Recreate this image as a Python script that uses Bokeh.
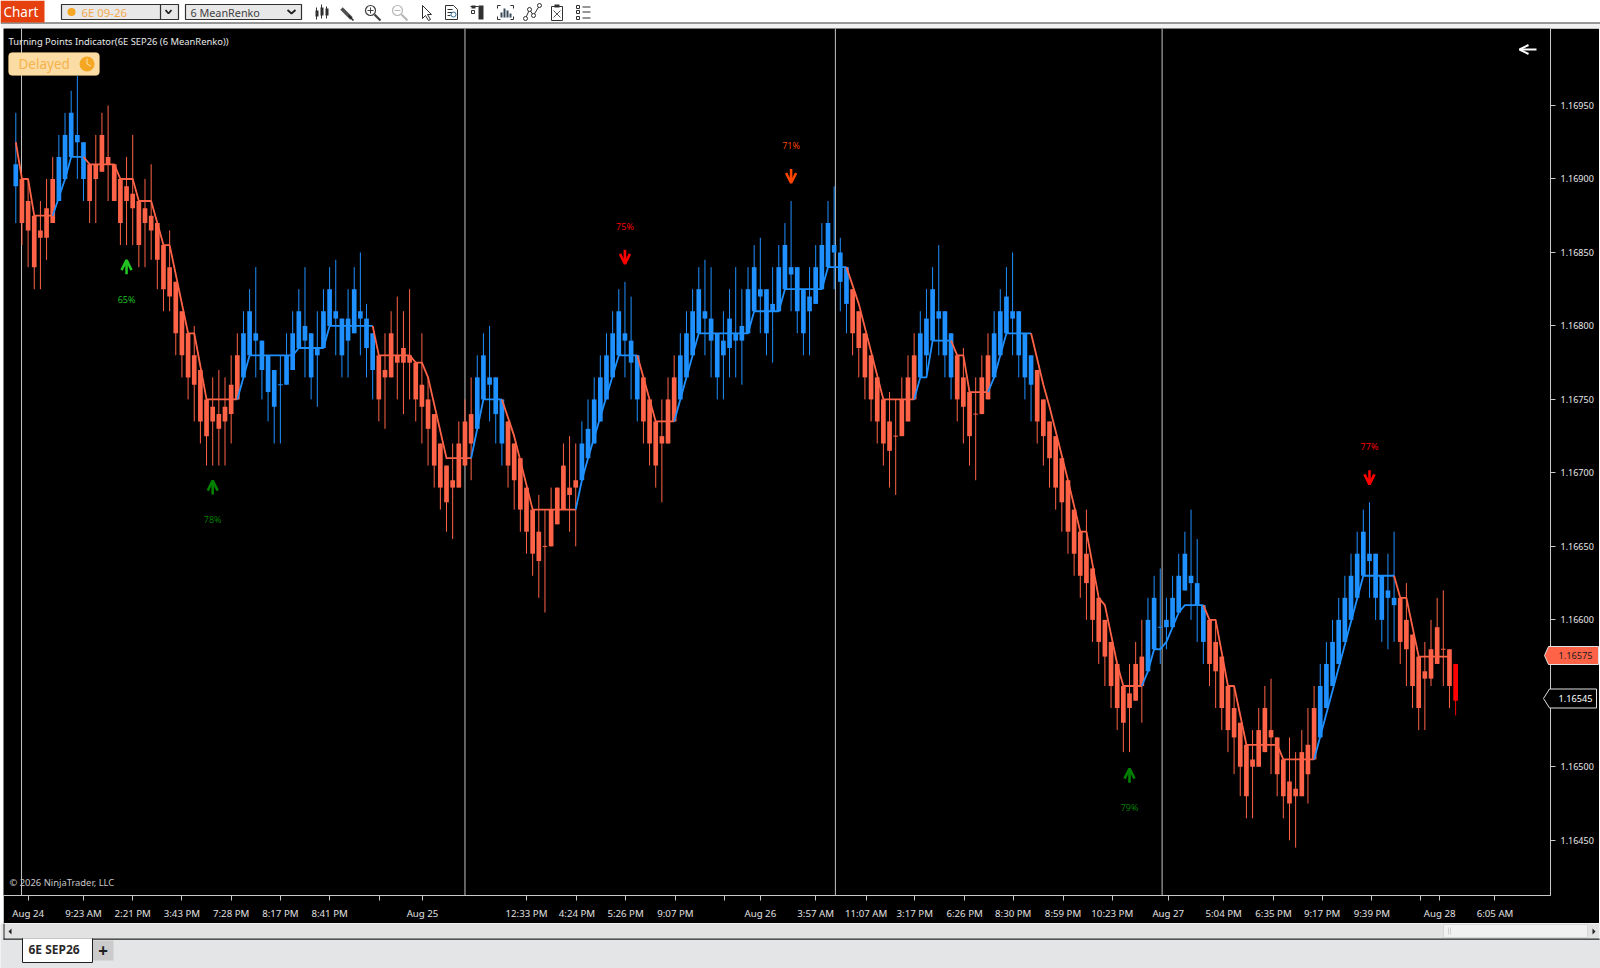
from bokeh.plotting import figure
from bokeh.layouts import column
from bokeh.models import (Range1d, FixedTicker, NumeralTickFormatter, Span, Arrow, OpenHead, BoxAnnotation)
from bokeh.embed import file_html
from bokeh.resources import INLINE
from bokeh.core.properties import value

# Prices are written as hundred-thousandths above 1.0 (16910 = 1.16910)
open_pts = [16895,16900,16885,16875,16865,16880,16900,16885,16900,16915,16925,16900,16910,16910,16930,16915,16910,16900,16895,16890,
16885,16880,16875,16870,16855,16840,16830,16810,16795,16780,16770,16750,16745,16740,16745,16760,16780,16765,16780,16790,
16770,16755,16745,16760,16760,16770,16785,16790,16765,16780,16785,16800,16805,16780,16790,16795,16805,16785,16770,16780,
16770,16795,16780,16785,16780,16775,16760,16750,16740,16720,16705,16695,16720,16735,16740,16730,16750,16760,16740,16720,
16735,16720,16710,16690,16675,16660,16650,16675,16690,16705,16690,16695,16695,16710,16720,16735,16750,16765,16780,16790,
16775,16750,16765,16750,16735,16725,16750,16765,16750,16765,16780,16795,16805,16790,16765,16780,16785,16790,16790,16795,
16810,16820,16795,16810,16810,16825,16835,16810,16795,16810,16815,16825,16840,16850,16830,16815,16825,16810,16795,16780,
16765,16750,16735,16725,16750,16765,16780,16765,16780,16790,16805,16780,16765,16780,16765,16755,16740,16765,16780,16765,
16780,16795,16805,16780,16765,16760,16770,16750,16735,16725,16710,16695,16675,16660,16645,16635,16615,16600,16585,16570,
16555,16550,16570,16575,16565,16580,16595,16595,16595,16605,16620,16625,16610,16585,16600,16585,16575,16555,16540,16530,
16515,16505,16525,16540,16525,16520,16505,16490,16485,16510,16515,16540,16520,16540,16555,16570,16585,16600,16615,16630,
16640,16615,16600,16615,16610,16615,16600,16590,16575,16565,16580,16595,16580,16580,16570]
high_pts = [16945,16900,16900,16875,16885,16900,16915,16930,16945,16960,16970,16925,16910,16930,16945,16950,16910,16900,16915,16930,
16885,16900,16910,16870,16855,16865,16830,16810,16795,16800,16770,16750,16765,16770,16765,16780,16795,16810,16825,16840,
16790,16780,16770,16780,16795,16810,16825,16840,16795,16810,16825,16840,16845,16805,16825,16840,16850,16815,16795,16780,
16795,16810,16820,16810,16825,16775,16795,16765,16740,16720,16705,16720,16735,16750,16765,16780,16795,16800,16765,16750,
16735,16720,16710,16690,16675,16685,16675,16690,16690,16720,16725,16720,16735,16750,16765,16780,16795,16810,16825,16830,
16820,16780,16765,16750,16735,16750,16765,16780,16795,16810,16825,16840,16845,16840,16795,16810,16825,16840,16825,16840,
16855,16860,16825,16840,16855,16870,16885,16840,16825,16840,16855,16870,16885,16895,16860,16840,16825,16810,16795,16780,
16765,16750,16755,16750,16765,16780,16795,16810,16825,16840,16855,16810,16795,16780,16785,16755,16765,16780,16795,16810,
16825,16840,16850,16810,16795,16780,16770,16750,16735,16725,16710,16695,16675,16660,16675,16635,16615,16600,16585,16570,
16555,16570,16585,16600,16615,16630,16635,16615,16630,16645,16660,16675,16655,16610,16600,16600,16575,16555,16555,16530,
16515,16525,16540,16555,16560,16520,16505,16520,16510,16525,16540,16555,16570,16585,16600,16615,16630,16645,16660,16675,
16680,16645,16630,16645,16660,16615,16625,16590,16575,16585,16600,16615,16620,16580,16570]
low_pts = [16870,16855,16840,16825,16825,16845,16870,16885,16900,16915,16900,16885,16870,16870,16905,16885,16885,16855,16855,16855,
16840,16840,16845,16825,16810,16810,16780,16765,16750,16735,16720,16705,16705,16705,16705,16720,16750,16765,16780,16765,
16750,16735,16720,16720,16760,16770,16785,16765,16750,16745,16785,16800,16780,16765,16765,16795,16780,16765,16750,16735,
16730,16765,16750,16740,16750,16735,16720,16705,16690,16675,16660,16655,16690,16705,16695,16730,16750,16735,16720,16705,
16690,16675,16660,16645,16630,16615,16605,16650,16665,16675,16660,16650,16695,16710,16720,16735,16750,16765,16780,16765,
16750,16735,16720,16705,16690,16680,16720,16735,16750,16765,16780,16795,16780,16765,16750,16750,16765,16765,16760,16795,
16810,16795,16780,16775,16810,16825,16810,16795,16780,16780,16815,16825,16840,16825,16810,16795,16780,16765,16750,16735,
16720,16705,16690,16685,16725,16735,16750,16765,16765,16790,16780,16765,16750,16735,16720,16705,16695,16740,16750,16765,
16780,16795,16780,16765,16750,16735,16720,16705,16690,16675,16660,16645,16630,16615,16600,16585,16570,16555,16540,16525,
16510,16510,16545,16530,16565,16580,16570,16580,16595,16605,16620,16600,16585,16570,16555,16540,16525,16510,16495,16480,
16465,16465,16500,16510,16495,16480,16465,16450,16445,16480,16475,16505,16520,16540,16555,16570,16585,16600,16615,16630,
16615,16600,16585,16580,16585,16570,16555,16540,16525,16525,16555,16570,16555,16540,16535]
close_pts = [16910,16870,16865,16840,16860,16860,16870,16915,16930,16945,16930,16925,16885,16900,16905,16910,16885,16870,16885,16880,
16855,16870,16865,16845,16825,16820,16795,16780,16765,16760,16735,16725,16735,16730,16735,16740,16750,16795,16810,16795,
16790,16780,16770,16760,16780,16795,16810,16800,16795,16785,16810,16825,16810,16805,16805,16825,16810,16805,16795,16750,
16765,16765,16775,16775,16775,16750,16745,16730,16705,16690,16680,16690,16690,16705,16720,16765,16780,16765,16765,16750,
16705,16695,16675,16660,16645,16640,16650,16650,16665,16675,16685,16690,16720,16730,16750,16765,16780,16795,16810,16795,
16790,16780,16735,16720,16705,16720,16720,16735,16780,16795,16810,16825,16810,16805,16795,16790,16805,16795,16800,16825,
16840,16825,16825,16815,16840,16855,16840,16840,16825,16820,16840,16855,16870,16855,16850,16840,16795,16785,16765,16750,
16735,16720,16715,16725,16725,16735,16750,16795,16805,16825,16810,16810,16795,16750,16745,16725,16740,16740,16750,16795,
16810,16820,16810,16810,16795,16780,16735,16725,16710,16690,16680,16660,16645,16630,16625,16600,16585,16575,16555,16540,
16530,16540,16545,16555,16600,16615,16595,16600,16615,16630,16645,16630,16625,16610,16570,16565,16540,16525,16520,16500,
16480,16500,16500,16510,16520,16495,16480,16475,16480,16480,16495,16505,16555,16570,16585,16600,16615,16630,16645,16660,
16645,16645,16630,16620,16615,16585,16580,16555,16540,16560,16560,16570,16580,16555,16545]
doji_up_bars = [44, 187]          # bars whose open equals close and that are drawn blue

trend_bar = [1,2,3,4,7,9,10,12,13,17,18,20,21,23,25,26,29,30,32,37,39,46,47,51,52,59,60,65,66,67,68,71,75,77,80,82,85,92,
93,94,99,102,105,108,112,120,121,125,126,132,133,136,138,142,147,148,149,150,153,154,155,156,159,160,162,166,168,169,172,174,
175,177,178,180,181,184,185,186,187,188,189,190,191,194,195,196,198,199,201,206,207,212,220,225,226,227,229,234]
trend_pts = [16925,16900,16900,16875,16875,16900,16915,16915,16910,16910,16900,16900,16885,16885,16855,16855,16795,16795,16750,16750,
16780,16780,16785,16785,16800,16800,16780,16780,16775,16775,16765,16710,16710,16750,16750,16725,16675,16675,
16695,16710,16780,16780,16735,16735,16795,16795,16810,16810,16825,16825,16840,16840,16815,16750,16750,16765,16765,16790,16790,
16780,16780,16755,16755,16765,16795,16795,16760,16745,16695,16660,16660,16615,16610,16570,16555,16555,16565,16580,16580,16585,
16595,16605,16610,16610,16600,16600,16555,16555,16515,16515,16505,16505,16630,16630,16615,16615,16575,16575]
turn_bars = [7,12,37,59,75,80,92,102,108,136,147,153,159,166,184,194,212,225]

price_ticks = [1.1695,1.169,1.1685,1.168,1.1675,1.167,1.1665,1.166,1.1655,1.165,1.1645]
time_ticks = [3.02,12,20,28,36,44,52,60.1,67.1,84,92.2,100.1,108.2,116.1,122,131,139.2,147.1,155.2,163.1,171.2,179.2,188.3,197.3,
              205.4,213.3,221.4,229.3,232.4,241.4]
time_labels = ["Aug 24","9:23 AM","2:21 PM","3:43 PM","7:28 PM","8:17 PM","8:41 PM","","Aug 25","12:33 PM","4:24 PM","5:26 PM",
               "9:07 PM","","Aug 26","3:57 AM","11:07 AM","3:17 PM","6:26 PM","8:30 PM","8:59 PM","10:23 PM","Aug 27","5:04 PM",
               "6:35 PM","9:17 PM","9:39 PM","","Aug 28","6:05 AM"]
session_bars = [1.93, 74.0, 134.2, 187.3]

signal_bar = [19, 33, 100, 127, 182, 221]
signal_price = [1.16840, 1.16690, 1.16847, 1.16902, 1.16494, 1.16697]
signal_text = ["65%", "78%", "75%", "71%", "79%", "77%"]
signal_color = ["#22C422", "#008000", "#FF0000", "#FF4500", "#008000", "#FF0000"]
signal_up = [True, True, False, False, True, False]

last_close = 1.16545
trend_last = 1.16575

BLUE, CORAL = "#1E90FF", "#FF6347"
UI = value("Noto Sans")
n = len(open_pts)
bars = list(range(1, n + 1))
op = [1 + v / 1e5 for v in open_pts]
hi = [1 + v / 1e5 for v in high_pts]
lo = [1 + v / 1e5 for v in low_pts]
cl = [1 + v / 1e5 for v in close_pts]
colors = []
for b, o, c in zip(bars, op, cl):
    up = c > o or (c == o and b in doji_up_bars)
    colors.append(BLUE if up else CORAL)
colors[-1] = "#FF0000"

# ---------------- main chart: frame spans page px 3..1550 by 28..895
PX = 146.96 / 0.001   # pixels per price unit
p = figure(width=1596, height=895, output_backend="svg", toolbar_location=None, y_axis_location="right",
           x_range=Range1d(-0.999, 250.42), y_range=Range1d(1.1695 - 790 / PX, 1.1695 + 77 / PX),
           min_border_left=0, min_border_top=0, min_border_right=49, min_border_bottom=28,
           background_fill_color="#000000", border_fill_color="#000000", outline_line_color=None,
           margin=(0, 1, 0, 3), frame_align=False)
p.grid.visible = False
p.extra_x_ranges["px"] = Range1d(3, 1550)
p.extra_y_ranges["px"] = Range1d(895, 28)

ax = p.yaxis[0]
ax.ticker = FixedTicker(ticks=price_ticks)
ax.formatter = NumeralTickFormatter(format="0.00000")
ax.axis_line_color = "#c8c8c8"
ax.major_tick_line_color = "#c8c8c8"
ax.major_tick_out = 5
ax.major_tick_in = 0
ax.minor_tick_out = 0
ax.minor_tick_in = 0
ax.major_label_standoff = 5
ax.major_label_text_color = "#e8e8e8"
ax.major_label_text_font = "Noto Sans"
ax.major_label_text_font_size = "9px"

bx = p.xaxis[0]
bx.ticker = FixedTicker(ticks=time_ticks)
bx.major_label_overrides = dict(zip(time_ticks, time_labels))
bx.axis_line_color = "#c8c8c8"
bx.major_tick_line_color = "#c8c8c8"
bx.major_tick_out = 5
bx.major_tick_in = 0
bx.minor_tick_out = 0
bx.minor_tick_in = 0
bx.major_label_standoff = 6
bx.major_label_text_color = "#e0e0e0"
bx.major_label_text_font = "Noto Sans"
bx.major_label_text_font_size = "9.7px"

for b in session_bars:
    p.add_layout(Span(location=b, dimension="height", line_color="#c4c4c4", line_width=1, level="underlay"))

p.segment(bars, hi, bars, lo, line_color=colors, line_width=1)
p.vbar(x=bars, top=[max(a, b) for a, b in zip(op, cl)], bottom=[min(a, b) for a, b in zip(op, cl)], width=0.76,
       fill_color=colors, line_color=None)
dx = [b for b, o, c in zip(bars, op, cl) if o == c]
dy = [o for o, c in zip(op, cl) if o == c]
dc = [c for c, o, k in zip(colors, op, cl) if o == k]
p.segment([b - 0.38 for b in dx], dy, [b + 0.38 for b in dx], dy, line_color=dc, line_width=1)

# trend line, split at every turn
start, col = 0, CORAL
for t in turn_bars + [trend_bar[-1]]:
    stop = trend_bar.index(t)
    p.line(trend_bar[start:stop + 1], [1 + v / 1e5 for v in trend_pts[start:stop + 1]], line_color=col, line_width=1.8)
    start, col = stop, (BLUE if col == CORAL else CORAL)

# signals
half = 7 / PX
gap = 32 / PX
for b, y, txt, c, up in zip(signal_bar, signal_price, signal_text, signal_color, signal_up):
    s = -half if up else half
    p.add_layout(Arrow(end=OpenHead(size=10, line_color=c, line_width=2.6),
                       x_start=b, x_end=b, y_start=y + s, y_end=y - s, line_color=c, line_width=2.6))
    p.text([b], [y - gap if up else y + gap - 1.5 / PX], text=[txt], text_color=c, text_align="center",
           text_baseline="middle", text_font=value("Open Sans"), text_font_size="9px")

# labels inside the chart, placed in page pixels
kw = dict(x_range_name="px", y_range_name="px", text_baseline="middle", text_font=UI)
p.text([8], [40.5], text=["Turning Points Indicator(6E SEP26 (6 MeanRenko))"], text_color="#e8e8e8", text_font_size="9.4px", **kw)
p.text([9], [881.5], text=["\u00a9 2026 NinjaTrader, LLC"], text_color="#c8c8c8", text_font_size="9.4px", **kw)
p.add_layout(BoxAnnotation(left=8, right=99, top=52, bottom=75, x_range_name="px", y_range_name="px", fill_color="#FBDCA5",
                           fill_alpha=1, line_color="#D8B060", line_width=1, border_radius=4, level="underlay"))
p.text([18], [63.5], text=["Delayed"], text_color="#F6B24B", text_font_size="13.5px", **kw)
p.scatter([86.5], [63.5], size=15, marker="circle", fill_color="#F5A623", line_color=None, x_range_name="px", y_range_name="px")
p.segment([86.5, 86.5], [63.5, 63.5], [86.5, 90.5], [58, 65.5], line_color="#FAD48F", line_width=1.3, x_range_name="px", y_range_name="px")
p.add_layout(Arrow(end=OpenHead(size=9, line_color="#ffffff", line_width=2), x_start=1536, x_end=1519, y_start=49, y_end=49,
                   line_color="#ffffff", line_width=2, x_range_name="px", y_range_name="px"))

# ---------------- window strips above and below the chart
def strip(w, h, x0, x1, y0, y1, bg, **extra):
    f = figure(width=w, height=h, output_backend="svg", toolbar_location=None, x_range=Range1d(x0, x1), y_range=Range1d(y1, y0),
               min_border=0, background_fill_color=bg, border_fill_color=bg, outline_line_color=None, x_axis_type=None, y_axis_type=None,
               frame_align=False, **extra)
    f.grid.visible = False
    return f

t = strip(1600, 28, 0, 1600, 0, 28, "#ffffff")
t.quad(left=[0], right=[1600], top=[22], bottom=[28], fill_color="#f1f1f1", line_color=None)
t.segment([0], [22.5], [1600], [22.5], line_color="#3a3a3a", line_width=1.2)
t.quad(left=[0], right=[44], top=[0], bottom=[22], fill_color="#E5400D", line_color=None)
t.text([3], [11.5], text=["Chart"], text_color="#ffffff", text_font=UI, text_font_size="13.5px", text_baseline="middle")
t.quad(left=[61, 185], right=[178, 301], top=[4, 4], bottom=[19, 19], fill_color="#E8E8E8", line_color="#303030", line_width=1.2)
t.segment([160], [4], [160], [19], line_color="#303030", line_width=1.2)
t.scatter([71], [11.5], size=8, marker="circle", fill_color="#F5A623", line_color=None)
t.text([81], [11.5], text=["6E 09-26"], text_color="#F5A84A", text_font=UI, text_font_size="11.4px", text_baseline="middle")
t.text([190], [11.5], text=["6 MeanRenko"], text_color="#404040", text_font=UI, text_font_size="10.8px", text_baseline="middle")
t.multi_line([[165, 168, 171], [287, 291, 295]], [[9.5, 13, 9.5], [9.5, 13, 9.5]], line_color="#202020", line_width=1.8)
D = "#303030"
# candle icon
t.segment([316, 321, 326], [7, 4, 6], [316, 321, 326], [19, 18, 18], line_color=D, line_width=1)
t.quad(left=[315, 320, 325], right=[318, 323, 328], top=[10, 7, 8], bottom=[16, 15, 15], fill_color=D, line_color=None)
# pencil
t.line([341, 351], [8, 18], line_color="#505050", line_width=3.5)
t.line([348, 353], [15, 20], line_color="#222222", line_width=1.5)
# magnifiers
for mx, c, plus in [(370, "#404040", True), (397, "#b8b8b8", False)]:
    t.scatter([mx], [10], size=10, marker="circle", fill_color=None, line_color=c, line_width=1.2)
    t.line([mx + 4, mx + 10], [14, 20], line_color=c, line_width=2.2)
    t.segment([mx - 3], [10], [mx + 3], [10], line_color=c, line_width=1)
    if plus:
        t.segment([mx], [7], [mx], [13], line_color=c, line_width=1)
# cursor
t.patch([422, 422, 425, 428, 430, 427, 431], [5, 18, 15, 20, 19, 14, 14], fill_color="#ffffff", line_color=D, line_width=1)
# document
t.patch([445, 453, 457, 457, 445], [5, 5, 9, 19, 19], fill_color="#ffffff", line_color=D, line_width=1)
t.segment([447, 447, 447], [9, 12, 15], [452, 452, 450], [9, 12, 15], line_color=D, line_width=1)
t.scatter([453], [14], size=5, marker="circle", fill_color=None, line_color="#2a6f9e", line_width=1)
# columns
t.quad(left=[471, 478], right=[475, 483], top=[5, 5], bottom=[8, 19], fill_color=D, line_color=None)
t.segment([470], [6], [478], [6], line_color=D, line_width=1)
t.quad(left=[471], right=[474], top=[10], bottom=[13], fill_color=None, line_color=D, line_width=1)
# chart frame
t.multi_line([[497, 497, 500], [510, 513, 513], [497, 497, 500], [510, 513, 513]], [[8, 5, 5], [5, 5, 8], [16, 19, 19], [19, 19, 16]],
             line_color=D, line_width=1)
t.quad(left=[500, 503, 506, 509], right=[502, 505, 508, 511], top=[12, 8, 10, 13], bottom=[17, 17, 17, 17], fill_color="#3a4a5a", line_color=None)
# line icon
t.line([525, 529, 533, 539], [18, 9, 15, 5], line_color=D, line_width=1)
t.scatter([525, 529, 533, 539], [18, 9, 15, 5], size=4, marker="circle", fill_color="#ffffff", line_color=D, line_width=1)
# clipboard
t.quad(left=[551], right=[562], top=[6], bottom=[20], fill_color="#ffffff", line_color=D, line_width=1)
t.quad(left=[554], right=[559], top=[4], bottom=[7], fill_color=D, line_color=None)
t.segment([553, 560], [10, 10], [560, 553], [17, 17], line_color="#555555", line_width=1)
# list
t.quad(left=[576, 576, 576], right=[579, 579, 579], top=[5, 10, 16], bottom=[8, 13, 19], fill_color=None, line_color=D, line_width=1)
t.segment([582, 582, 582], [6.5, 11.5, 17.5], [590, 590, 590], [6.5, 11.5, 17.5], line_color=D, line_width=1.2)

b = strip(1600, 45, 0, 1600, 923, 968, "#E4E5E6")
b.quad(left=[3], right=[1599], top=[923], bottom=[938], fill_color="#E2E2E2", line_color="#f4f4f4", line_width=1)
b.quad(left=[1443], right=[1587], top=[924], bottom=[937], fill_color="#F1F1F1", line_color="#c8c8c8", line_width=0.6)
b.segment([1448, 1450], [927, 927], [1448, 1450], [934, 934], line_color="#c8c8c8", line_width=0.8)
b.segment([3], [938.6], [1599], [938.6], line_color="#202020", line_width=1.2)
b.segment([3.5, 1599.5], [923], [3.5, 1599.5], [939], line_color="#202020", line_width=1)
b.patch([11, 8, 11], [928, 931, 934], fill_color="#202020", line_color=None)
b.patch([1592, 1595, 1592], [928, 931, 934], fill_color="#202020", line_color=None)
b.quad(left=[92], right=[113], top=[940], bottom=[960], fill_color="#CBCBCB", line_color=None)
b.quad(left=[22], right=[92], top=[938], bottom=[962], fill_color="#FFFFFF", line_color="#202020", line_width=1)
b.segment([22.5], [938.6], [91.5], [938.6], line_color="#ffffff", line_width=1.5)
b.text([28], [949], text=["6E SEP26"], text_color="#2a2a2a", text_font=UI, text_font_size="12px", text_font_style="bold", text_baseline="middle")
b.text([102.5], [950], text=["+"], text_color="#202020", text_font=UI, text_font_size="17px", text_font_style="bold", text_align="center", text_baseline="middle")

# ---------------- last-price tags, a small transparent figure laid over the price axis
g = strip(60, 80, 1540, 1600, 640, 720, None,
          styles={"position": "absolute", "left": "1540px", "top": "639px"})
g.patch([1544, 1548, 1598, 1598, 1548], [656, 647, 647, 665, 665], fill_color=CORAL, line_color="#e0e0e0", line_width=1)
g.patch([1543, 1549, 1596, 1596, 1549], [699, 689.5, 689.5, 708.5, 708.5], fill_color="#000000", line_color="#e0e0e0", line_width=1)
g.text([1575, 1575], [656, 699], text=[f"{trend_last:.5f}", f"{last_close:.5f}"], text_color=["#202020", "#ffffff"],
       text_align="center", text_baseline="middle", text_font=UI, text_font_size="9.2px")

page = column(t, p, b, g, spacing=0)
open("out.html", "w").write(file_html(page, INLINE))
